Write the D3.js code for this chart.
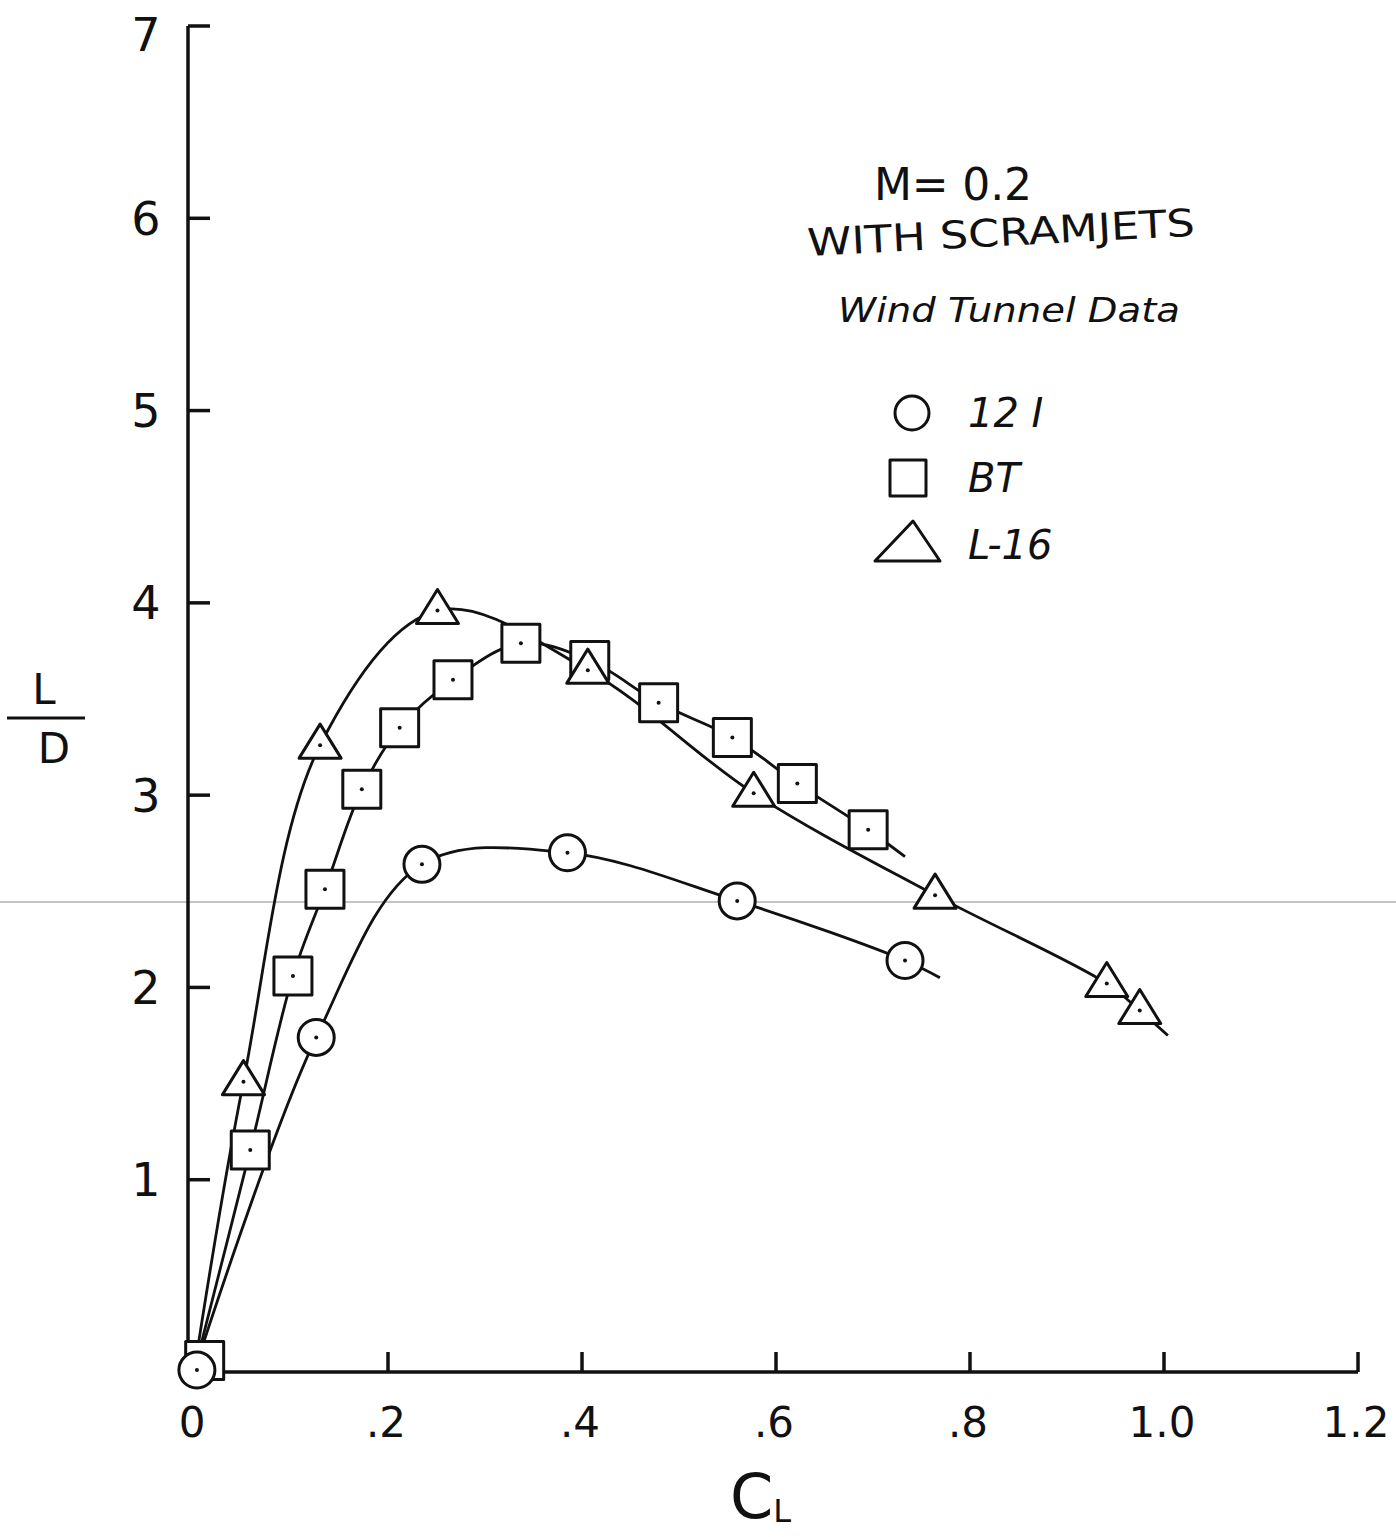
<!DOCTYPE html>
<html>
<head>
<meta charset="utf-8">
<script src="https://cdn.jsdelivr.net/npm/d3@7"></script>
<style>
  body { margin: 0; background: #fff; }
  text { font-family: "DejaVu Sans", sans-serif; fill: #111; }
</style>
</head>
<body>
<div id="chart"></div>
<script>
// axis ticks
const xTickValues = [0, 0.2, 0.4, 0.6, 0.8, 1.0, 1.2];
const xTickLabels = ["0", ".2", ".4", ".6", ".8", "1.0", "1.2"];
const yTickValues = [1, 2, 3, 4, 5, 6, 7];
const yTickLabels = ["1", "2", "3", "4", "5", "6", "7"];

// 12 I  (circles)
const cl12I = [0.003, 0.126, 0.235, 0.385, 0.560, 0.733];
const ld12I = [0.01, 1.74, 2.64, 2.70, 2.45, 2.14];
const tail12I = [0.769, 2.05];

// BT  (squares)
const clBT = [0.011, 0.058, 0.102, 0.135, 0.173, 0.212, 0.267, 0.337, 0.408, 0.479, 0.555, 0.622, 0.695];
const ldBT = [0.06, 1.155, 2.06, 2.51, 3.03, 3.35, 3.60, 3.79, 3.70, 3.48, 3.30, 3.06, 2.82];
const tailBT = [0.733, 2.68];

// L-16  (triangles)
const clL16 = [0.051, 0.130, 0.251, 0.406, 0.577, 0.764, 0.941, 0.975];
const ldL16 = [1.51, 3.26, 3.96, 3.65, 3.01, 2.48, 2.02, 1.88];
const tailL16 = [1.004, 1.75];

const lineStart = [0, 0];

const series = [
  { name: "12 I", shape: "circle", cl: cl12I, ld: ld12I, tail: tail12I },
  { name: "BT", shape: "square", cl: clBT, ld: ldBT, tail: tailBT },
  { name: "L-16", shape: "triangle", cl: clL16, ld: ldL16, tail: tailL16 }
];

const W = 1396, H = 1537;
const svg = d3.select("#chart").append("svg")
  .attr("width", W).attr("height", H);

svg.append("rect").attr("width", W).attr("height", H).attr("fill", "#fff");

const x = d3.scaleLinear().domain([0, 1.2]).range([194, 1358]);
const y = d3.scaleLinear().domain([0, 7]).range([1372, 26]);

// scan line across the page
svg.append("line")
  .attr("x1", 0).attr("x2", W)
  .attr("y1", 902).attr("y2", 902)
  .attr("stroke", "#8a8a8a").attr("stroke-width", 1.2);

// axes
const axisG = svg.append("g").attr("stroke", "#111").attr("stroke-width", 3.5).attr("fill", "none");
axisG.append("line")
  .attr("x1", x(0) - 6).attr("x2", x(0) - 6)
  .attr("y1", y(7)).attr("y2", y(0));
axisG.append("line")
  .attr("x1", x(0) - 6).attr("x2", x(1.2))
  .attr("y1", y(0)).attr("y2", y(0));

axisG.selectAll(".ytick").data(yTickValues).join("line")
  .attr("class", "ytick")
  .attr("x1", x(0) - 6).attr("x2", x(0) + 16)
  .attr("y1", d => y(d)).attr("y2", d => y(d));

axisG.selectAll(".xtick").data(xTickValues.filter(d => d > 0)).join("line")
  .attr("class", "xtick")
  .attr("x1", d => x(d)).attr("x2", d => x(d))
  .attr("y1", y(0)).attr("y2", y(0) - 20);

svg.selectAll(".ylab").data(yTickValues).join("text")
  .attr("class", "ylab")
  .attr("x", 146).attr("y", d => Math.max(y(d), 34))
  .attr("dy", "0.36em")
  .attr("text-anchor", "middle")
  .attr("font-size", 46)
  .text((d, i) => yTickLabels[i]);

svg.selectAll(".xlab").data(xTickValues).join("text")
  .attr("class", "xlab")
  .attr("x", d => x(d) - 2).attr("y", 1422)
  .attr("dy", "0.36em")
  .attr("text-anchor", "middle")
  .attr("font-size", 42)
  .text((d, i) => xTickLabels[i]);

// axis titles
const cl = svg.append("text").attr("x", 730).attr("y", 1518).attr("font-size", 62);
cl.append("tspan").text("C");
cl.append("tspan").attr("font-size", 32).attr("dy", 4).text("L");

svg.append("text").attr("x", 44).attr("y", 704).attr("text-anchor", "middle")
  .attr("font-size", 42).text("L");
svg.append("line").attr("x1", 7).attr("x2", 85).attr("y1", 718).attr("y2", 718)
  .attr("stroke", "#111").attr("stroke-width", 3);
svg.append("text").attr("x", 54).attr("y", 763).attr("text-anchor", "middle")
  .attr("font-size", 42).text("D");

// curves
const line = d3.line()
  .x(d => x(d[0])).y(d => y(d[1]))
  .curve(d3.curveCatmullRom.alpha(0.5));

series.forEach(s => {
  const pts = [lineStart];
  s.cl.forEach((c, i) => { if (c > 0.02) pts.push([c, s.ld[i]]); });
  pts.push(s.tail);
  svg.append("path")
    .datum(pts)
    .attr("fill", "none")
    .attr("stroke", "#111")
    .attr("stroke-width", 2.8)
    .attr("d", line);
});

// markers
function drawMarker(g, shape, cx, cy) {
  if (shape === "circle") {
    g.append("circle").attr("cx", cx).attr("cy", cy).attr("r", 18);
  } else if (shape === "square") {
    g.append("rect").attr("x", cx - 19).attr("y", cy - 19).attr("width", 38).attr("height", 38);
  } else {
    g.append("path").attr("d", `M${cx},${cy - 21}L${cx + 21},${cy + 13}L${cx - 21},${cy + 13}Z`);
  }
}

const order = [series[1], series[2], series[0]];
order.forEach(s => {
  const g = svg.append("g")
    .attr("fill", "#fff").attr("stroke", "#111").attr("stroke-width", 3)
    .attr("stroke-linejoin", "round");
  s.cl.forEach((c, i) => {
    drawMarker(g, s.shape, x(c), y(s.ld[i]));
    svg.append("circle").attr("cx", x(c)).attr("cy", y(s.ld[i]))
      .attr("r", 2).attr("fill", "#111");
  });
});

// annotation
svg.append("text").attr("x", 874).attr("y", 200).attr("font-size", 44)
  .attr("textLength", 158).attr("lengthAdjust", "spacing").text("M= 0.2");
svg.append("text").attr("x", 808).attr("y", 256).attr("font-size", 38)
  .attr("transform", "rotate(-3 808 256)")
  .attr("textLength", 388).attr("lengthAdjust", "spacingAndGlyphs").text("WITH SCRAMJETS");
svg.append("text").attr("x", 838).attr("y", 322).attr("font-size", 34)
  .attr("font-style", "italic")
  .attr("textLength", 342).attr("lengthAdjust", "spacingAndGlyphs").text("Wind Tunnel Data");

// legend
const legY = [413, 478, 545];
const legG = svg.append("g")
  .attr("fill", "#fff").attr("stroke", "#111").attr("stroke-width", 3)
  .attr("stroke-linejoin", "round");
legG.append("circle").attr("cx", 912).attr("cy", legY[0]).attr("r", 17);
legG.append("rect").attr("x", 890).attr("y", legY[1] - 18).attr("width", 36).attr("height", 36);
legG.append("path").attr("d", `M913,${legY[2] - 24}L940,${legY[2] + 16}L875,${legY[2] + 16}Z`);

svg.selectAll(".legtext").data(series).join("text")
  .attr("class", "legtext")
  .attr("x", 968).attr("y", (d, i) => legY[i])
  .attr("dy", "0.36em")
  .attr("font-size", 40)
  .attr("font-style", "italic")
  .text(d => d.name);
</script>
</body>
</html>
